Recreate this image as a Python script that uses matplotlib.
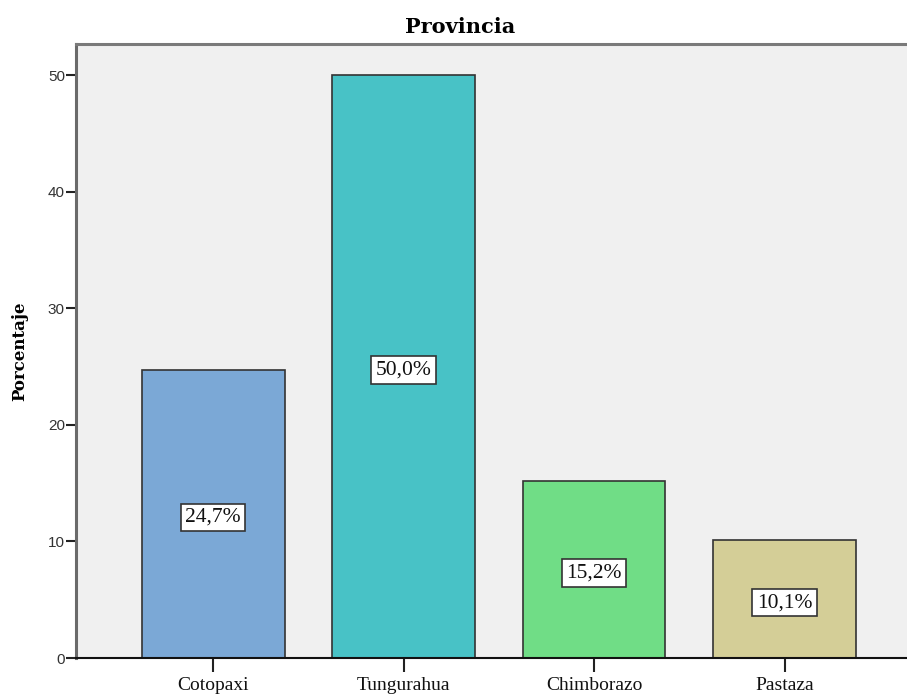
import matplotlib.pyplot as plt

# Province share of respondents (percent)
provincias = ['Cotopaxi', 'Tungurahua', 'Chimborazo', 'Pastaza']
porcentajes = [24.7, 50.0, 15.2, 10.1]
etiquetas = ['24,7%', '50,0%', '15,2%', '10,1%']
colores = ['#7ba8d6', '#48c2c6', '#70dd86', '#d4ce97']

serif = ['Liberation Serif', 'DejaVu Serif']
sans = ['Liberation Sans', 'DejaVu Sans']

fig = plt.figure(figsize=(9.07, 7.0), dpi=100)
ax = fig.add_axes([76 / 907, 42 / 700, 1 - 76 / 907, 614 / 700])
ax.set_facecolor('#f0f0f0')

x = range(len(provincias))
bars = ax.bar(x, porcentajes, width=0.75, color=colores,
              edgecolor='#333333', linewidth=1.2, zorder=2)

# Value boxes centred halfway up each bar
for bar, texto in zip(bars, etiquetas):
    cx = bar.get_x() + bar.get_width() / 2
    ax.text(cx, bar.get_height() / 2 - 0.3, texto, ha='center', va='center',
            family=serif, fontsize=15.5, color='#111111', zorder=3,
            bbox=dict(boxstyle='square,pad=0.2', fc='white',
                      ec='#333333', lw=1.2))

ax.set_xlim(-0.72, 3.643)
ax.set_ylim(0, 52.66)
ax.set_yticks([0, 10, 20, 30, 40, 50])
ax.set_xticks(list(x))
ax.set_xticklabels(provincias, family=serif, fontsize=14, color='#111111')
for lbl in ax.get_yticklabels():
    lbl.set_family(sans)
    lbl.set_fontsize(11)
    lbl.set_color('#333333')

ax.tick_params(axis='y', length=7, width=1.5, color='#222222', pad=1)
ax.tick_params(axis='x', length=10, width=1.5, color='#222222', pad=4)

ax.spines['right'].set_visible(False)
ax.spines['top'].set_color('#7a7a7a')
ax.spines['top'].set_linewidth(2.2)
ax.spines['left'].set_color('#6a6a6a')
ax.spines['left'].set_linewidth(2.2)
ax.spines['bottom'].set_color('#111111')
ax.spines['bottom'].set_linewidth(1.5)

fig.text(460 / 907, 1 - 27 / 700, 'Provincia', family=['DejaVu Serif'],
         fontweight='bold', fontsize=15, ha='center', va='center')
ax.set_ylabel('Porcentaje', family=['DejaVu Serif'], fontweight='bold',
              fontsize=12, labelpad=14)

fig.savefig('out.png', dpi=100)
